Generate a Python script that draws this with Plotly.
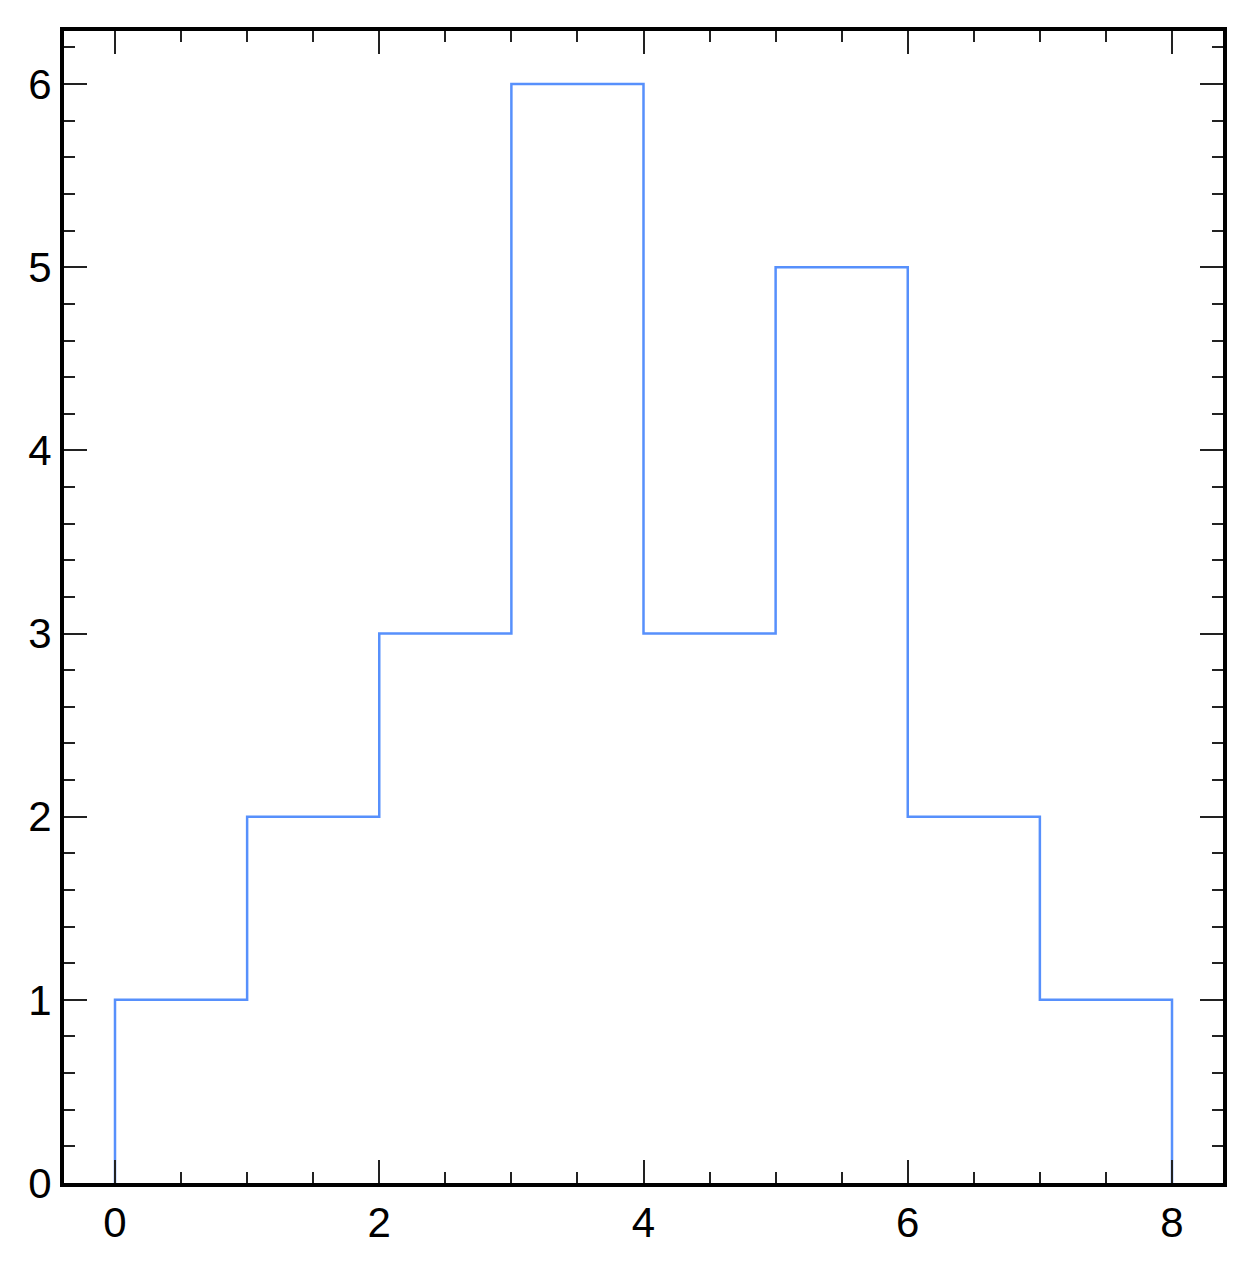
import plotly.graph_objects as go

bin_edges = [0, 1, 2, 3, 4, 5, 6, 7, 8]
counts = [1, 2, 3, 6, 3, 5, 2, 1]
x_tick_vals = [0, 2, 4, 6, 8]
y_tick_vals = [0, 1, 2, 3, 4, 5, 6]

x_step = [bin_edges[0]] + bin_edges[:-1] + [bin_edges[-1]]
y_step = [0] + counts + [0]

fig = go.Figure()
fig.add_trace(go.Scatter(
    x=x_step, y=y_step, mode="lines", line_shape="hv",
    line=dict(color="#5790fc", width=2.5), showlegend=False,
))

axis_common = dict(
    showgrid=False, zeroline=False, showline=True, linecolor="black", linewidth=4,
    mirror="allticks", ticks="inside", tickcolor="#222222", tickwidth=2, ticklen=23,
    tickfont=dict(family="Liberation Sans, Arial, sans-serif", size=42, color="black"),
)

fig.update_xaxes(
    range=[-0.386, 8.386], tickmode="array", tickvals=x_tick_vals,
    ticktext=[str(v) for v in x_tick_vals],
    minor=dict(ticks="inside", dtick=0.5, tick0=0, ticklen=11, tickcolor="#222222", tickwidth=2, showgrid=False),
    **axis_common,
)
fig.update_yaxes(
    range=[0, 6.29], tickmode="array", tickvals=y_tick_vals,
    ticktext=[str(v) for v in y_tick_vals],
    minor=dict(ticks="inside", dtick=0.2, tick0=0, ticklen=11, tickcolor="#222222", tickwidth=2, showgrid=False),
    **axis_common,
)

fig.update_layout(
    width=1246, height=1264,
    margin=dict(l=56, r=31, t=23, b=89),
    paper_bgcolor="white", plot_bgcolor="white",
)

fig.write_html("out.html")
